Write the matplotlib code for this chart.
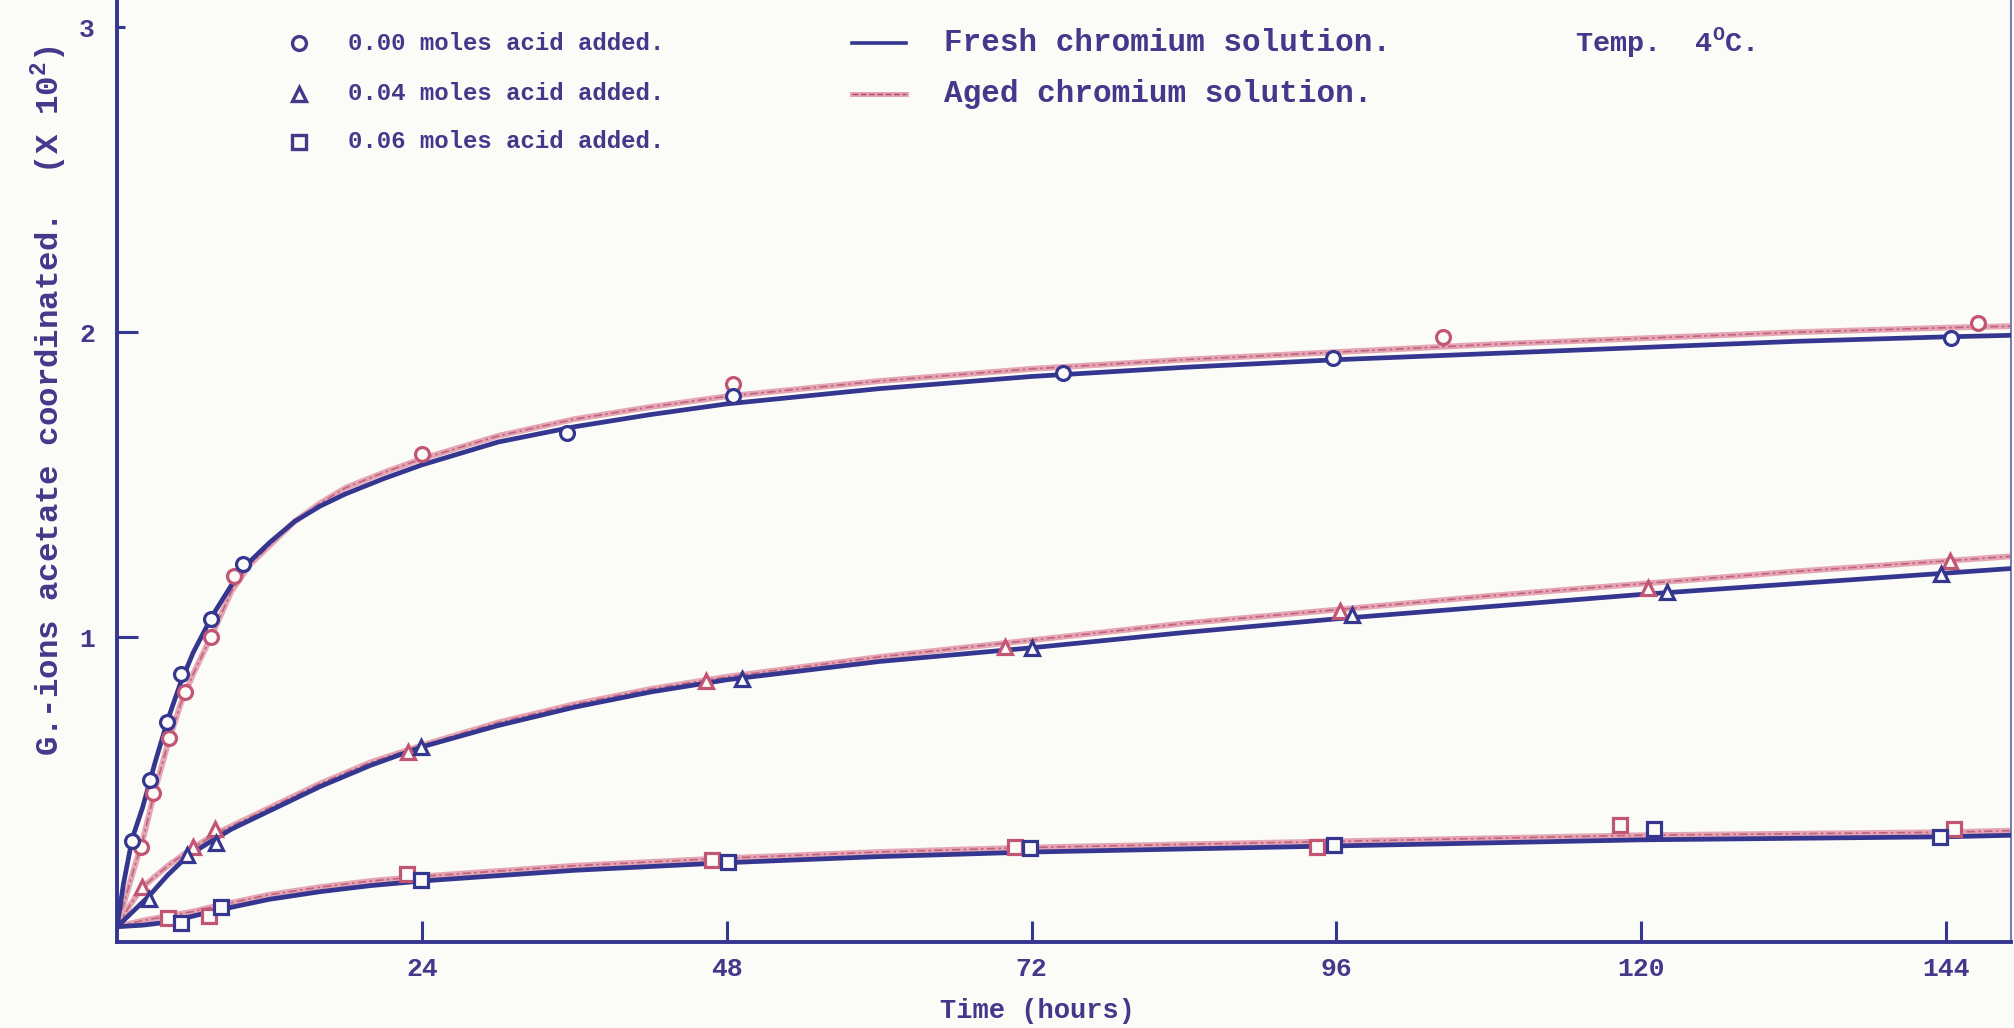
import matplotlib.pyplot as plt

# Time in hours, g.-ions acetate coordinated (x 10^2)

# 0.00 moles acid added
pts_t_fresh_00 = [1.2, 2.6, 3.9, 5.0, 7.4, 9.9, 35.4, 48.5, 74.5, 95.7, 144.4]
pts_v_fresh_00 = [0.33, 0.53, 0.72, 0.88, 1.06, 1.24, 1.67, 1.79, 1.865, 1.915, 1.98]
pts_t_aged_00 = [1.9, 2.8, 4.1, 5.35, 7.4, 9.2, 24.0, 48.5, 104.4, 146.5]
pts_v_aged_00 = [0.31, 0.49, 0.67, 0.82, 1.0, 1.2, 1.60, 1.83, 1.985, 2.03]

# 0.04 moles acid added
pts_t_fresh_04 = [2.5, 5.5, 7.8, 23.9, 49.2, 72.0, 97.2, 122.0, 143.6]
pts_v_fresh_04 = [0.14, 0.285, 0.325, 0.64, 0.863, 0.963, 1.072, 1.147, 1.208]
pts_t_aged_04 = [2.0, 5.95, 7.7, 22.9, 46.4, 69.9, 96.3, 120.5, 144.3]
pts_v_aged_04 = [0.18, 0.31, 0.37, 0.624, 0.856, 0.969, 1.085, 1.16, 1.249]

# 0.06 moles acid added
pts_t_fresh_06 = [5.0, 8.2, 23.9, 48.1, 71.9, 95.8, 121.0, 143.5]
pts_v_fresh_06 = [0.063, 0.114, 0.204, 0.263, 0.307, 0.317, 0.37, 0.345]
pts_t_aged_06 = [4.0, 7.2, 22.8, 46.8, 70.7, 94.5, 118.3, 144.6]
pts_v_aged_06 = [0.08, 0.085, 0.223, 0.27, 0.31, 0.312, 0.385, 0.37]

# hand drawn curves
crv_t_fresh_00 = [0, 0.5, 1.2, 2.0, 3.0, 4.0, 5.0, 6.0, 7.5, 9.0, 10.5, 12, 14, 16, 18, 21, 24,
                  30, 36, 42, 48, 60, 72, 84, 96, 108, 120, 132, 144, 149.1]
crv_v_fresh_00 = [0.05, 0.19, 0.34, 0.44, 0.59, 0.73, 0.85, 0.95, 1.07, 1.17, 1.25, 1.31, 1.38,
                  1.43, 1.47, 1.52, 1.565, 1.64, 1.69, 1.73, 1.765, 1.815, 1.855, 1.885, 1.91,
                  1.93, 1.95, 1.97, 1.985, 1.99]
crv_t_aged_00 = [0, 0.7, 1.4, 2.0, 3.0, 4.0, 5.0, 6.0, 7.5, 9.0, 10.5, 12, 14, 16, 18, 21, 24,
                 30, 36, 42, 48, 60, 72, 84, 96, 108, 120, 132, 144, 149.1]
crv_v_aged_00 = [0.05, 0.15, 0.25, 0.33, 0.50, 0.65, 0.78, 0.88, 1.01, 1.15, 1.24, 1.30, 1.38,
                 1.44, 1.49, 1.54, 1.585, 1.66, 1.715, 1.755, 1.79, 1.84, 1.88, 1.91, 1.935,
                 1.96, 1.98, 2.0, 2.015, 2.02]

crv_t_fresh_04 = [0, 1, 2.5, 4, 5.5, 7, 9, 12, 16, 20, 24, 30, 36, 42, 48, 60, 72, 84, 96, 108,
                  120, 132, 144, 149.1]
crv_v_fresh_04 = [0.05, 0.09, 0.15, 0.22, 0.28, 0.32, 0.37, 0.43, 0.51, 0.58, 0.64, 0.71, 0.77,
                  0.82, 0.86, 0.92, 0.965, 1.015, 1.06, 1.10, 1.14, 1.175, 1.21, 1.225]
crv_t_aged_04 = [0, 1, 2, 4, 6, 8, 10, 12, 16, 20, 24, 30, 36, 42, 48, 60, 72, 84, 96, 108, 120,
                 132, 144, 149.1]
crv_v_aged_04 = [0.05, 0.12, 0.18, 0.25, 0.31, 0.36, 0.40, 0.44, 0.52, 0.59, 0.645, 0.72, 0.78,
                 0.83, 0.87, 0.935, 0.99, 1.045, 1.09, 1.135, 1.175, 1.215, 1.25, 1.265]

crv_t_fresh_06 = [0, 2, 4, 6, 8, 12, 16, 20, 24, 36, 48, 60, 72, 84, 96, 108, 120, 132, 144, 149.1]
crv_v_fresh_06 = [0.05, 0.055, 0.065, 0.085, 0.105, 0.14, 0.165, 0.185, 0.20, 0.235, 0.26, 0.28,
                  0.295, 0.305, 0.315, 0.325, 0.335, 0.34, 0.345, 0.35]
crv_t_aged_06 = [0, 2, 4, 6, 8, 12, 16, 20, 24, 36, 48, 60, 72, 84, 96, 108, 120, 132, 144, 149.1]
crv_v_aged_06 = [0.05, 0.07, 0.085, 0.10, 0.12, 0.155, 0.18, 0.20, 0.215, 0.25, 0.275, 0.295,
                 0.31, 0.32, 0.33, 0.34, 0.35, 0.355, 0.36, 0.365]

x_ticks = [24, 48, 72, 96, 120, 144]
y_ticks = [1, 2, 3]

legend_rows = ['0.00 moles acid added.', '0.04 moles acid added.', '0.06 moles acid added.']
legend_marks = ['o', '^', 's']

# COLOURS
INK = '#45388b'
BLUE = '#34368f'
PINK = '#e5a6b4'
RED = '#b34468'
PAPER = '#fbfbf7'

plt.rcParams['font.family'] = ['Liberation Mono', 'DejaVu Sans Mono']
plt.rcParams['font.weight'] = 'bold'
plt.rcParams['mathtext.fontset'] = 'custom'
plt.rcParams['mathtext.rm'] = 'Liberation Mono:bold'

fig = plt.figure(figsize=(20.15, 10.28), dpi=100, facecolor=PAPER)
ax = fig.add_axes([0.0581, 0.0837, 0.9399, 0.9163], facecolor=PAPER)


def fresh_line(t, v):
    ax.plot(t, v, color=BLUE, lw=3.4, solid_capstyle='round', solid_joinstyle='round', zorder=3)


def aged_line(t, v):
    ax.plot(t, v, color=PINK, lw=4.2, solid_capstyle='round', solid_joinstyle='round', zorder=2)
    ax.plot(t, v, color=RED, lw=1.2, dashes=(5, 2, 1.5, 2), alpha=0.7, zorder=2)


def points(t, v, mark, edge):
    ax.plot(t, v, ls='none', marker=mark, ms=10, mew=2.3, mec=edge, mfc=PAPER, zorder=4)


fresh_line(crv_t_fresh_00, crv_v_fresh_00)
fresh_line(crv_t_fresh_04, crv_v_fresh_04)
fresh_line(crv_t_fresh_06, crv_v_fresh_06)
aged_line(crv_t_aged_00, crv_v_aged_00)
aged_line(crv_t_aged_04, crv_v_aged_04)
aged_line(crv_t_aged_06, crv_v_aged_06)

points(pts_t_aged_00, pts_v_aged_00, 'o', '#c35574')
points(pts_t_aged_04, pts_v_aged_04, '^', '#c35574')
points(pts_t_aged_06, pts_v_aged_06, 's', '#c35574')
points(pts_t_fresh_00, pts_v_fresh_00, 'o', BLUE)
points(pts_t_fresh_04, pts_v_fresh_04, '^', BLUE)
points(pts_t_fresh_06, pts_v_fresh_06, 's', BLUE)

# AXES
ax.set_xlim(0, 149.1)
ax.set_ylim(0, 3.09)
ax.set_xticks(x_ticks)
ax.set_yticks(y_ticks)
ax.tick_params(axis='both', direction='in', length=15, width=2.2, color=BLUE,
               labelsize=19, labelcolor=INK)
ax.tick_params(axis='x', pad=11)
ax.tick_params(axis='y', pad=16)
ax.yaxis.get_major_ticks()[2].tick1line.set_markersize(6)

for side in ['left', 'bottom']:
    ax.spines[side].set_color(BLUE)
    ax.spines[side].set_linewidth(2.8)
ax.spines['right'].set_color('#7878ad')
ax.spines['right'].set_linewidth(1.4)
ax.spines['top'].set_visible(False)

fig.text(0.5151, 0.0165, 'Time (hours)', fontsize=19.5, color=INK, ha='center', va='center')
fig.text(0.0243, 0.61, 'G.-ions acetate coordinated.  (X 10$^{\\mathrm{2}}$)', fontsize=23.3,
         color=INK, rotation=90, ha='center', va='center')

# LEGEND
row_y = [0.958, 0.909, 0.862]
for y, label, mark in zip(row_y, legend_rows, legend_marks):
    fig.lines.append(plt.Line2D([0.1484], [y], marker=mark, ms=10, mew=2.4, mec=INK,
                                mfc=PAPER, ls='none', transform=fig.transFigure))
    fig.text(0.1727, y, label, fontsize=17.3, color=INK, ha='left', va='center')

fig.lines.append(plt.Line2D([0.4228, 0.4496], [row_y[0], row_y[0]], color=BLUE, lw=2.6,
                            transform=fig.transFigure))
fig.lines.append(plt.Line2D([0.4228, 0.4496], [row_y[1], row_y[1]], color=PINK, lw=3.6,
                            transform=fig.transFigure))
fig.lines.append(plt.Line2D([0.4228, 0.4496], [row_y[1], row_y[1]], color=RED, lw=1.0,
                            dashes=(4, 2), transform=fig.transFigure))
fig.text(0.4685, row_y[0], 'Fresh chromium solution.', fontsize=22.3, color=INK, ha='left', va='center')
fig.text(0.4685, row_y[1], 'Aged chromium solution.', fontsize=22.3, color=INK, ha='left', va='center')
fig.text(0.7816, row_y[0], 'Temp.  4$^{\\mathrm{O}}$C.', fontsize=20.5, color=INK, ha='left', va='center')

fig.savefig('out.png', dpi=100, facecolor=PAPER)
